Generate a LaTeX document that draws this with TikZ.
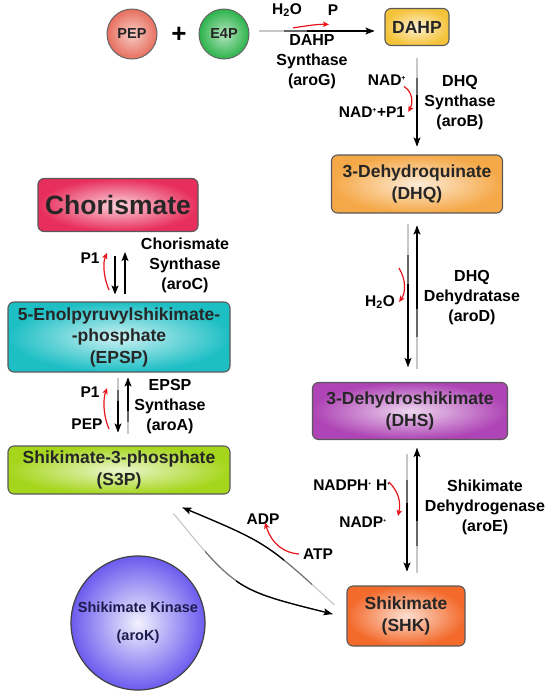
\documentclass[tikz,border=0pt]{standalone}
\usepackage{fontspec}
\setmainfont{Liberation Sans}
\usetikzlibrary{arrows.meta,calc}

\definecolor{pepred}{HTML}{E76F5E}
\definecolor{e4pgreen}{HTML}{2BB34A}
\definecolor{dahpyel}{HTML}{F5C33B}
\definecolor{dhqorange}{HTML}{F5A847}
\definecolor{chorred}{HTML}{E82E5C}
\definecolor{epspcyan}{HTML}{1DBFC5}
\definecolor{dhspurple}{HTML}{AE44B5}
\definecolor{sthreep}{HTML}{A5D61C}
\definecolor{shkorange}{HTML}{F36A2B}
\definecolor{kinblue}{HTML}{6B5BEE}
\definecolor{sidered}{HTML}{E8141B}
\definecolor{navytext}{HTML}{1B1B4D}

\newcommand{\chgplus}{\textsuperscript{\fontsize{7}{7}\selectfont +}}
\newcommand{\chgdot}{\textsuperscript{\fontsize{5}{5}\selectfont +}}
% tail grey, head black
\newcommand{\fadearrow}[2]{%
  \draw[faint] (#1) -- (#2);
  \draw[line width=1.15pt, black!60] ($(#1)!0.22!(#2)$) -- ($(#1)!0.5!(#2)$);
  \draw[rxn] ($(#1)!0.42!(#2)$) -- (#2);}

\begin{document}
\begin{tikzpicture}[x=1pt, y=-1pt,
    box/.style={draw=black!65, line width=1.1pt, rounded corners=6pt,
      inner color=#1!22!white, outer color=#1, align=center, inner sep=2pt,
      text=black!85, font=\fontsize{17.5}{21.5}\selectfont\bfseries},
    mol/.style={circle, draw=black!60, line width=1pt, inner sep=0pt,
      inner color=#1!35!white, outer color=#1, minimum size=50pt,
      text=black!85, font=\fontsize{14.5}{17}\selectfont\bfseries},
    enz/.style={align=center, font=\fontsize{16}{20}\selectfont\bfseries},
    cof/.style={inner sep=1pt, font=\fontsize{15.5}{18}\selectfont\bfseries},
    rxn/.style={line width=1.2pt, -{Stealth[length=9pt,width=7pt,inset=2pt]}},
    faint/.style={line width=1.1pt, black!22},
    side/.style={sidered, line width=1.2pt, -{Stealth[length=6pt,width=5.5pt,inset=1.5pt]}}]
  \useasboundingbox (0,0) rectangle (550,694);

  % substrates
  \node[mol=pepred] (pep) at (132,34) {PEP};
  \node[font=\fontsize{26}{26}\selectfont\bfseries] (plus) at (179,35) {+};
  \node[mol=e4pgreen] (e4p) at (224,34) {E4P};

  % intermediates
  \node[box=dahpyel, minimum width=64pt, minimum height=37pt] (dahp) at (417,27) {DAHP};
  \node[box=dhqorange, minimum width=171pt, minimum height=58pt] (dhq) at (417,184) {3-Dehydroquinate\\(DHQ)};
  \node[box=dhspurple, minimum width=195pt, minimum height=57pt] (dhs) at (410,411) {3-Dehydroshikimate\\(DHS)};
  \node[box=shkorange, minimum width=118pt, minimum height=60pt] (shk) at (406,616) {Shikimate\\(SHK)};
  \node[box=sthreep, minimum width=222pt, minimum height=48pt] (s3p) at (119,470) {Shikimate-3-phosphate\\(S3P)};
  \node[box=epspcyan, minimum width=222pt, minimum height=70pt] (epsp) at (119,337) {5-Enolpyruvylshikimate-\\-phosphate\\(EPSP)};
  \node[box=chorred, minimum width=160pt, minimum height=53pt,
    font=\fontsize{26.5}{30}\selectfont\bfseries] (chor) at (118,205) {Chorismate};

  % enzyme
  \node[circle, draw=black!75, line width=1.2pt, minimum size=134pt, inner sep=0pt,
    inner color=kinblue!8!white, outer color=kinblue, align=center, text=navytext,
    font=\fontsize{14.5}{28}\selectfont\bfseries] (arok) at (138,623) {Shikimate Kinase\\(aroK)};

  % aroG
  \fadearrow{[xshift=9pt,yshift=3pt]e4p.east}{[xshift=-10pt,yshift=-4pt]dahp.west}
  \node[cof] (h2oa) at (287,10) {H\textsubscript{2}O};
  \node[cof] (pa) at (333,10) {P};
  \draw[side] ([xshift=6pt,yshift=-10pt]h2oa.south) .. controls (305,26) and (318,24) .. ([xshift=-4pt,yshift=-8pt]pa.south);
  \node[enz] (arog) at (312,62) {DAHP\\Synthase\\(aroG)};

  % aroB
  \fadearrow{[yshift=-12pt]dahp.south}{[yshift=8pt]dhq.north}
  \node[cof] (nada) at (387,80) {NAD\chgplus};
  \node[cof] (nadb) at (372,112) {NAD\chgplus+P1};
  \draw[side] ([xshift=17pt]nada.south) .. controls (413,92) and (413,103) .. ([xshift=2pt]nadb.east);
  \node[enz] (arob) at (460,103) {DHQ\\Synthase\\(aroB)};

  % aroD
  \fadearrow{[xshift=-9pt,yshift=-10pt]dhq.south}{[xshift=-2pt,yshift=15pt]dhs.north}
  \fadearrow{[xshift=7pt,yshift=13pt]dhs.north}{[yshift=-12pt]dhq.south}
  \node[cof] (h2ob) at (380,302) {H\textsubscript{2}O};
  \draw[side] (399,268) .. controls (406,280) and (406,292) .. ([xshift=3pt]h2ob.east);
  \node[enz] (arod) at (472,298) {DHQ\\Dehydratase\\(aroD)};

  % aroE
  \fadearrow{[xshift=-3pt,yshift=-14pt]dhs.south}{[xshift=1pt,yshift=14pt]shk.north}
  \fadearrow{[xshift=11pt,yshift=12pt]shk.north}{[xshift=7pt,yshift=-8pt]dhs.south}
  \node[cof] (nadph) at (352,485) {NADPH\chgdot{} H\chgdot};
  \node[cof] (nadp) at (363,522) {NADP\chgdot};
  \draw[side] (389,482) .. controls (399,492) and (401,503) .. (398,516);
  \node[enz] (aroe) at (485,507) {Shikimate\\Dehydrogenase\\(aroE)};

  % aroK
  \coordinate (uk0) at ([xshift=-12pt,yshift=11pt]shk.west);
  \coordinate (uk1) at ([xshift=-48pt,yshift=-13pt]s3p.south east);
  \coordinate (lk0) at ([xshift=-57pt,yshift=-19pt]s3p.south east);
  \coordinate (lk1) at ([xshift=-14pt,yshift=2pt]shk.west);
  \draw[faint] (uk0) .. controls (267,543) .. (uk1);
  \draw[faint] (lk0) .. controls (236,590) .. (lk1);
  \begin{scope}
    \clip (0,480) rectangle (312,640);
    \draw[line width=1.15pt, black!55] (uk0) .. controls (267,543) .. (uk1);
  \end{scope}
  \begin{scope}
    \clip (0,480) rectangle (284,640);
    \draw[rxn] (uk0) .. controls (267,543) .. (uk1);
  \end{scope}
  \begin{scope}
    \clip (205,480) rectangle (360,640);
    \draw[line width=1.15pt, black!55] (lk0) .. controls (236,590) .. (lk1);
  \end{scope}
  \begin{scope}
    \clip (236,480) rectangle (360,640);
    \draw[rxn] (lk0) .. controls (236,590) .. (lk1);
  \end{scope}
  \node[cof] (adp) at (263,519) {ADP};
  \node[cof] (atp) at (318,554) {ATP};
  \draw[side] ([xshift=-3pt]atp.west) .. controls (285,553) and (272,545) .. ([xshift=2pt,yshift=3pt]adp.south);

  % aroA
  \fadearrow{[xshift=9pt,yshift=11pt]s3p.north}{[xshift=9pt,yshift=-5pt]epsp.south}
  \fadearrow{[xshift=-1pt,yshift=-5pt]epsp.south}{[xshift=-1pt,yshift=13pt]s3p.north}
  \node[cof] (p1a) at (90,392) {P1};
  \node[cof] (pepb) at (87,424) {PEP};
  \draw[side] (109,429) .. controls (103,415) and (103,399) .. (107,388);
  \node[enz] (aroa) at (170,407) {EPSP\\Synthase\\(aroA)};

  % aroC
  \draw[rxn] ([xshift=6pt,yshift=7pt]epsp.north) -- ([xshift=7pt,yshift=-20pt]chor.south);
  \draw[rxn] ([xshift=-3pt,yshift=-24pt]chor.south) -- ([xshift=-4pt,yshift=7pt]epsp.north);
  \node[cof] (p1b) at (90,258) {P1};
  \draw[side] (109,290) .. controls (103,276) and (103,262) .. (107,253);
  \node[enz] (aroc) at (185,265) {Chorismate\\Synthase\\(aroC)};
\end{tikzpicture}
\end{document}
